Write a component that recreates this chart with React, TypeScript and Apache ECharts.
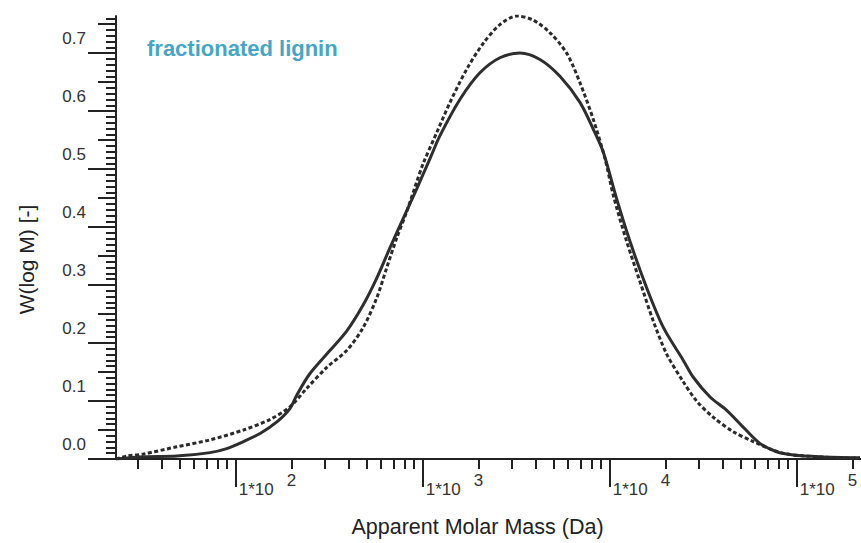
import { useEffect, useRef } from 'react';
import * as echarts from 'echarts';

// Apparent molar mass (Da) and W(log M) for the solid curve
const solidMass = [22.9, 32.1, 48.3, 72.9, 89.5, 110, 135, 166, 195, 212, 249, 319, 393, 481, 568, 668, 787, 929, 1094, 1239, 1581, 2023, 2588, 3311, 4236, 5420, 6934, 8166, 9247, 10890, 12850, 15780, 19360, 24770, 27990, 34430, 42270, 51760, 63530, 78160, 95940, 133000, 217800];
const solidW = [0, 0.004, 0.005, 0.011, 0.018, 0.030, 0.044, 0.064, 0.087, 0.110, 0.147, 0.187, 0.221, 0.266, 0.312, 0.364, 0.415, 0.466, 0.518, 0.558, 0.620, 0.666, 0.692, 0.700, 0.689, 0.660, 0.615, 0.569, 0.529, 0.449, 0.375, 0.295, 0.227, 0.170, 0.141, 0.107, 0.084, 0.055, 0.027, 0.0125, 0.007, 0.004, 0.002];

// Apparent molar mass (Da) and W(log M) for the dashed curve
const dashedMass = [22.9, 26.1, 32.1, 48.3, 72.9, 110, 152, 195, 240, 307, 392, 481, 568, 641, 726, 820, 929, 1007, 1189, 1400, 1718, 2109, 2588, 3184, 3899, 4797, 5888, 6934, 8166, 9441, 10450, 12330, 14520, 17100, 20180, 24660, 29170, 35810, 45810, 58610, 74990, 88510, 113000, 170600, 217800];
const dashedW = [0, 0.005, 0.0086, 0.021, 0.033, 0.050, 0.068, 0.090, 0.122, 0.158, 0.187, 0.227, 0.278, 0.329, 0.381, 0.426, 0.478, 0.510, 0.563, 0.615, 0.672, 0.717, 0.749, 0.764, 0.757, 0.735, 0.700, 0.649, 0.586, 0.518, 0.455, 0.375, 0.306, 0.238, 0.181, 0.134, 0.100, 0.072, 0.047, 0.030, 0.015, 0.0086, 0.005, 0.002, 0.0015];

// Axis ticks and labels
const yLabelTicks = [0, 0.1, 0.2, 0.3, 0.4, 0.5, 0.6, 0.7];
const yMidTicks = [0.05, 0.15, 0.25, 0.35, 0.45, 0.55, 0.65, 0.75];
const yMinorTicks: number[] = [];
for (let i = 1; i <= 76; i++) if (i % 5 !== 0) yMinorTicks.push(i / 100);
const xDecadeTicks = [100, 1000, 10000, 100000];
const xMinorTicks = [30, 40, 50, 60, 70, 80, 90, 200, 300, 400, 500, 600, 700, 800, 900, 2000, 3000, 4000, 5000, 6000, 7000, 8000, 9000, 20000, 30000, 40000, 50000, 60000, 70000, 80000, 90000, 200000];

const titleText = 'fractionated lignin';
const xName = 'Apparent Molar Mass (Da)';
const yName = 'W(log M) [-]';

const FONT = 'Liberation Sans, Arial, Helvetica, sans-serif';
const INK = '#222';
const X_MIN = 22.9;
const X_MAX = 220800;
const Y_MIN = 0;
const Y_MAX = 0.764;

export default function App() {
  const ref = useRef<HTMLDivElement>(null);
  useEffect(() => {
    document.body.style.margin = '0';
    document.body.style.overflow = 'hidden';
    const chart = echarts.init(ref.current!, null, { renderer: 'svg' });
    const hidden = { show: false };
    const baseX = { type: 'log', logBase: 10, min: X_MIN, max: X_MAX, splitLine: hidden, minorTick: hidden, minorSplitLine: hidden };
    const baseY = { type: 'value', min: Y_MIN, max: Y_MAX, splitLine: hidden, position: 'left', offset: 0 };
    chart.setOption({
      animation: false,
      backgroundColor: '#fff',
      title: {
        text: titleText,
        left: 147,
        top: 37,
        padding: 0,
        textStyle: { fontFamily: FONT, fontSize: 22, fontWeight: 'bold', color: '#46a6c6' },
      },
      grid: { left: 116, top: 16, bottom: 80.7, right: 0, containLabel: false },
      xAxis: [
        {
          ...baseX,
          position: 'bottom',
          name: xName,
          nameLocation: 'middle',
          nameGap: 57,
          nameTextStyle: { fontFamily: FONT, fontSize: 21.5, color: INK, padding: [0, 22, 0, 0] },
          axisLine: { show: true, lineStyle: { color: INK, width: 2 } },
          axisTick: { show: true, customValues: xDecadeTicks, length: 28, lineStyle: { color: INK, width: 2 } },
          axisLabel: {
            show: true,
            customValues: xDecadeTicks,
            align: 'left',
            margin: 17,
            color: '#333',
            fontFamily: FONT,
            formatter: (v: number) => `{b|1*10}{e|${Math.round(Math.log10(v))}}`,
            rich: {
              b: { fontFamily: FONT, fontSize: 17, lineHeight: 17, color: '#333', padding: [9, 0, 0, 3] },
              e: { fontFamily: FONT, fontSize: 17, lineHeight: 17, color: '#333', padding: [0, 0, 9, 13] },
            },
          },
        },
        {
          ...baseX,
          position: 'bottom',
          axisLine: hidden,
          axisTick: { show: true, customValues: xMinorTicks, length: 10, lineStyle: { color: INK, width: 2 } },
          axisLabel: hidden,
        },
        {
          ...baseX,
          position: 'top',
          axisLine: { show: true, lineStyle: { color: INK, width: 2 } },
          axisTick: hidden,
          axisLabel: hidden,
        },
      ],
      yAxis: [
        {
          ...baseY,
          name: yName,
          nameLocation: 'middle',
          nameGap: 79,
          nameTextStyle: { fontFamily: FONT, fontSize: 21, color: INK, padding: [0, 44, 0, 0] },
          axisLine: { show: true, lineStyle: { color: INK, width: 2 } },
          axisTick: { show: true, customValues: yLabelTicks, length: 28, lineStyle: { color: INK, width: 2 } },
          axisLabel: {
            show: true,
            customValues: yLabelTicks,
            formatter: (v: number) => v.toFixed(1),
            verticalAlign: 'bottom',
            padding: [0, 0, 6, 0],
            margin: 30,
            fontFamily: FONT,
            fontSize: 17,
            lineHeight: 17,
            color: '#333',
          },
        },
        {
          ...baseY,
          axisLine: hidden,
          axisTick: { show: true, customValues: yMidTicks, length: 18, lineStyle: { color: INK, width: 2 } },
          axisLabel: hidden,
        },
        {
          ...baseY,
          axisLine: hidden,
          axisTick: { show: true, customValues: yMinorTicks, length: 10, lineStyle: { color: INK, width: 2 } },
          axisLabel: hidden,
        },
      ],
      series: [
        {
          type: 'line',
          xAxisIndex: 0,
          yAxisIndex: 0,
          data: solidMass.map((m, i) => [m, solidW[i]]),
          showSymbol: false,
          smooth: 0.3,
          lineStyle: { color: '#2e2e2e', width: 3 },
          z: 3,
        },
        {
          type: 'line',
          xAxisIndex: 0,
          yAxisIndex: 0,
          data: dashedMass.map((m, i) => [m, dashedW[i]]),
          showSymbol: false,
          smooth: 0.3,
          lineStyle: { color: '#2a2a2a', width: 3, type: [4, 2.5] },
          z: 4,
        },
      ],
    });
    return () => chart.dispose();
  }, []);
  return <div ref={ref} style={{ position: 'absolute', left: 0, top: 0, width: 861, height: 543 }} />;
}
